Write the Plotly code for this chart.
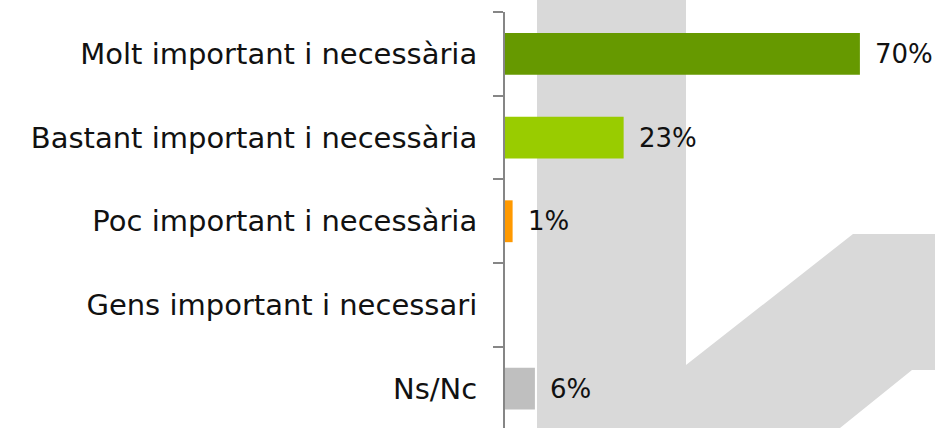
import plotly.graph_objects as go

categories = [
    "Molt important i necessària",
    "Bastant important i necessària",
    "Poc important i necessària",
    "Gens important i necessari",
    "Ns/Nc",
]
values = [70.0, 23.4, 1.5, 0.0, 5.9]
value_labels = ["70%", "23%", "1%", "", "6%"]
colors = ["#669900", "#99CC00", "#FF9900", "#A6A6A6", "#BFBFBF"]

W, H = 935, 428
ML, MR, MT, MB = 505, 0, 12, 0
PW, PH = W - ML - MR, H - MT - MB

FONT = "DejaVu Sans"

fig = go.Figure()
fig.add_trace(go.Bar(
    x=values, y=categories, orientation="h",
    marker=dict(color=colors, line=dict(width=0)),
    width=0.5, hoverinfo="skip",
))

for c, v, t in zip(categories, values, value_labels):
    if t:
        fig.add_annotation(x=v, y=c, text=t, showarrow=False, xanchor="left",
                           xshift=13, font=dict(family=FONT, size=26, color="#111111"))

# background watermark shape (pixel coordinates -> paper)
poly_px = [(537, -5), (686, -5), (686, 365), (853, 234), (940, 234), (940, 370),
           (912, 370), (840, 428), (833, 434), (537, 434)]
def to_paper(px, py):
    return (px - ML) / PW, (H - MB - py) / PH
path = "M " + " L ".join(f"{to_paper(px, py)[0]:.5f},{to_paper(px, py)[1]:.5f}" for px, py in poly_px) + " Z"
fig.add_shape(type="path", path=path, xref="paper", yref="paper",
              fillcolor="#D9D9D9", line=dict(width=0), layer="below")

fig.update_layout(
    width=W, height=H,
    margin=dict(l=ML, r=MR, t=MT, b=MB, pad=0),
    paper_bgcolor="white", plot_bgcolor="rgba(0,0,0,0)",
    showlegend=False,
    font=dict(family=FONT, size=29, color="#111111"),
)
fig.update_xaxes(range=[0, PW / 5.07], visible=False, showgrid=False, zeroline=False)
fig.update_yaxes(
    type="category", categoryorder="array", categoryarray=categories,
    range=[len(categories) - 1 + (PH / 83.7 - len(categories)) + 0.5, -0.5],
    showline=True, linecolor="#868686", linewidth=2,
    ticks="outside", tickson="boundaries", ticklen=10, tickcolor="#868686", tickwidth=2,
    ticklabelstandoff=20, showgrid=False, zeroline=False,
    tickfont=dict(family=FONT, size=29, color="#111111"),
)
fig.write_html("out.html", config={"displayModeBar": False, "staticPlot": True},
               post_script="document.body.style.margin='0';document.body.style.overflow='hidden';")
